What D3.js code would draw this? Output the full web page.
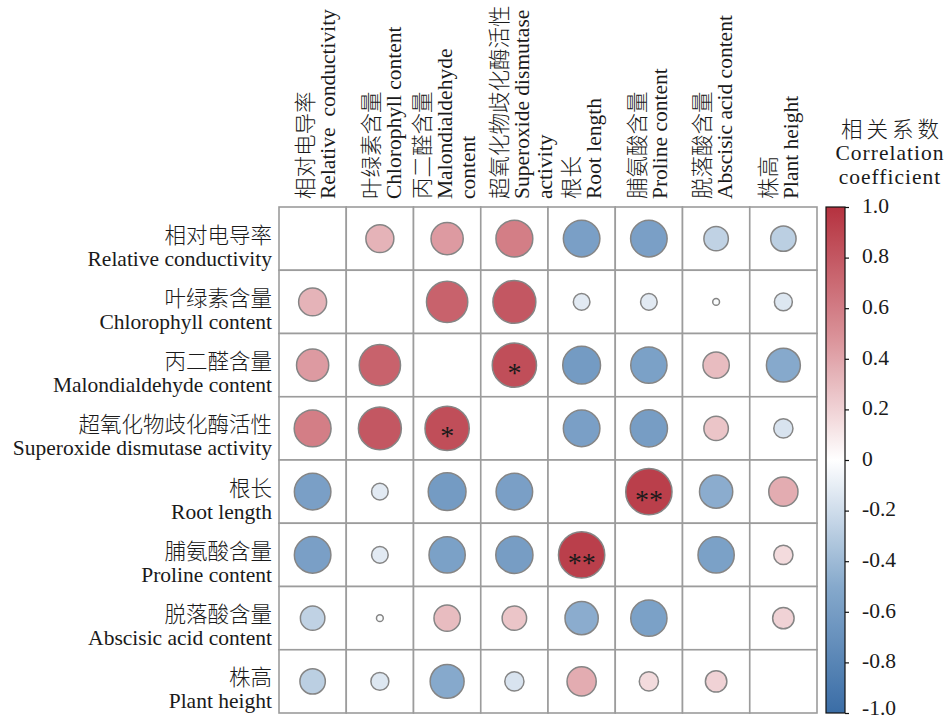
<!DOCTYPE html>
<html>
<head>
<meta charset="utf-8">
<script src="https://cdn.jsdelivr.net/npm/d3@7"></script>
<style>
  html, body { margin: 0; padding: 0; background: #ffffff; }
  svg { display: block; }
  .lbl { font-family: "Liberation Serif", "Times New Roman", "Noto Sans CJK SC", serif; fill: #1a1a1a; }
  .zh { font-family: "Noto Sans CJK SC", sans-serif; font-weight: 300; }
</style>
</head>
<body>
<svg id="chart" width="948" height="720"></svg>
<script>
// Variables (same order for rows and columns)
const namesZh = ["相对电导率", "叶绿素含量", "丙二醛含量", "超氧化物歧化酶活性", "根长", "脯氨酸含量", "脱落酸含量", "株高"];
const namesEn = ["Relative conductivity", "Chlorophyll content", "Malondialdehyde content", "Superoxide dismutase activity",
                 "Root length", "Proline content", "Abscisic acid content", "Plant height"];
// English header text split into lines for the rotated column labels
const headerEn = [["Relative  conductivity"], ["Chlorophyll content"], ["Malondialdehyde", "content"],
                  ["Superoxide dismutase", "activity"], ["Root length"], ["Proline content"],
                  ["Abscisic acid content"], ["Plant height"]];

// Pearson correlation coefficients, one row per variable (diagonal left empty)
const rowRC  = [null,  0.34,  0.45,  0.59, -0.58, -0.58, -0.26, -0.28];
const rowChl = [ 0.34, null,  0.74,  0.80, -0.12, -0.12, -0.02, -0.14];
const rowMDA = [ 0.45,  0.74, null,  0.85, -0.62, -0.57,  0.30, -0.50];
const rowSOD = [ 0.59,  0.80,  0.85, null, -0.58, -0.60,  0.26, -0.16];
const rowRL  = [-0.58, -0.12, -0.62, -0.58, null,  0.93, -0.48,  0.37];
const rowPro = [-0.58, -0.12, -0.57, -0.60,  0.93, null, -0.57,  0.16];
const rowABA = [-0.26, -0.02,  0.30,  0.26, -0.48, -0.57, null,  0.20];
const rowPH  = [-0.28, -0.14, -0.50, -0.16,  0.37,  0.16,  0.20, null];
const corrRows = [rowRC, rowChl, rowMDA, rowSOD, rowRL, rowPro, rowABA, rowPH];

// Significance marks: [row, column, mark]
const sigMarks = [[2, 3, "*"], [3, 2, "*"], [4, 5, "**"], [5, 4, "**"]];

// Colour bar ticks
const legendTicks = [-1.0, -0.8, -0.6, -0.4, -0.2, 0, 0.2, 0.4, 0.6, 0.8, 1.0];
const legendTickLabels = ["-1.0", "-0.8", "-0.6", "-0.4", "-0.2", "0", "0.2", "0.4", "0.6", "0.8", "1.0"];

// ---- layout ----
const svg = d3.select("#chart");
const fs = 21.5;
const gx0 = 279, gx1 = 817, gy0 = 207, gy1 = 713;
const idx = d3.range(namesZh.length);
const x = d3.scaleBand().domain(idx).range([gx0, gx1]);
const y = d3.scaleBand().domain(idx).range([gy0, gy1]);
const radius = d3.scaleSqrt().domain([0, 1]).range([0, 24]);
const color = d3.scaleLinear()
  .domain([-1, -0.5, 0, 0.5, 1])
  .range(["#3a6da6", "#86a9cc", "#ffffff", "#d98f96", "#b5323f"]);

const cells = [];
corrRows.forEach((row, i) => row.forEach((v, j) => cells.push({ i, j, v })));

// grid
const grid = svg.append("g");
grid.selectAll("rect.cell").data(cells).join("rect")
  .attr("class", "cell")
  .attr("x", d => x(d.j)).attr("y", d => y(d.i))
  .attr("width", x.bandwidth()).attr("height", y.bandwidth())
  .attr("fill", "#ffffff").attr("stroke", "#9c9c9c").attr("stroke-width", 1.6);

// circles
svg.append("g").selectAll("circle").data(cells.filter(d => d.v !== null)).join("circle")
  .attr("cx", d => x(d.j) + x.bandwidth() / 2)
  .attr("cy", d => y(d.i) + y.bandwidth() / 2)
  .attr("r", d => radius(Math.abs(d.v)))
  .attr("fill", d => color(d.v))
  .attr("stroke", "#858585").attr("stroke-width", 1.5);

// significance asterisks
svg.append("g").selectAll("text").data(sigMarks).join("text")
  .attr("class", "lbl")
  .attr("x", d => x(d[1]) + x.bandwidth() / 2)
  .attr("y", d => y(d[0]) + y.bandwidth() / 2 + 17)
  .attr("text-anchor", "middle")
  .attr("font-size", 28)
  .attr("fill", "#111")
  .text(d => d[2]);

// row labels
const rowLab = svg.append("g").attr("class", "lbl").attr("text-anchor", "end").attr("font-size", fs);
idx.forEach(i => {
  const cy = y(i) + y.bandwidth() / 2;
  rowLab.append("text").attr("class", "zh").attr("x", 272).attr("y", cy + 4).text(namesZh[i]);
  rowLab.append("text").attr("x", 272).attr("y", cy + 27).text(namesEn[i]);
});

// column labels (rotated)
const headerNudge = [4, 3, -2, 8, 1, 0, -2, -4];
const colLab = svg.append("g").attr("class", "lbl").attr("font-size", fs);
idx.forEach(j => {
  const lines = [{ t: namesZh[j], zh: true }].concat(headerEn[j].map(t => ({ t, zh: false })));
  const n = lines.length;
  const cx = x(j) + x.bandwidth() / 2 + headerNudge[j];
  lines.forEach((ln, k) => {
    const xc = cx + (k - (n - 1) / 2) * 23.5;
    colLab.append("text")
      .attr("class", ln.zh ? "zh" : null)
      .attr("transform", `translate(${xc + (ln.zh ? 8 : 6.5)},199) rotate(-90)`)
      .attr("text-anchor", "start")
      .attr("xml:space", "preserve")
      .text(ln.t);
  });
});

// colour bar
const lx0 = 826, lw = 19;
const ly = d3.scaleLinear().domain([-1, 1]).range([gy1, gy0]);
const defs = svg.append("defs");
const grad = defs.append("linearGradient").attr("id", "cbar")
  .attr("x1", 0).attr("y1", 1).attr("x2", 0).attr("y2", 0);
d3.range(-1, 1.0001, 0.05).forEach(t => {
  grad.append("stop").attr("offset", (t + 1) / 2).attr("stop-color", color(t));
});
svg.append("rect").attr("x", lx0).attr("y", gy0).attr("width", lw).attr("height", gy1 - gy0)
  .attr("fill", "url(#cbar)").attr("stroke", "#111").attr("stroke-width", 1.2);

const axis = d3.axisRight(ly).tickValues(legendTicks).tickSize(4).tickPadding(13)
  .tickFormat((d, k) => legendTickLabels[k]);
const ag = svg.append("g").attr("transform", `translate(${lx0 + lw},0)`).call(axis);
ag.select(".domain").remove();
ag.selectAll(".tick line").attr("stroke", "#111").attr("stroke-width", 1.2);
ag.selectAll(".tick text").attr("class", "lbl").attr("font-size", fs).attr("fill", "#1a1a1a")
  .attr("dy", d => d === -1 ? "0.05em" : "0.25em");

// colour bar title
const tg = svg.append("g").attr("class", "lbl").attr("text-anchor", "middle").attr("font-size", fs);
tg.append("text").attr("class", "zh").attr("x", 892).attr("y", 137).attr("letter-spacing", 4).text("相关系数");
tg.append("text").attr("x", 890).attr("y", 160).attr("letter-spacing", 1).text("Correlation");
tg.append("text").attr("x", 890).attr("y", 184).attr("letter-spacing", 1).text("coefficient");
</script>
</body>
</html>
